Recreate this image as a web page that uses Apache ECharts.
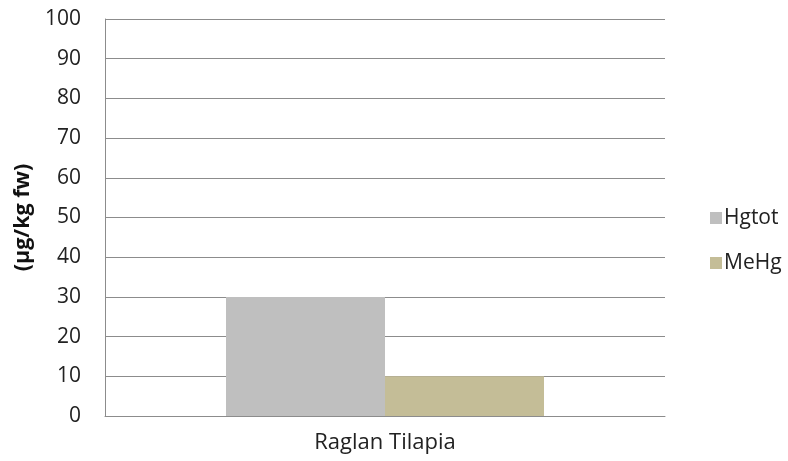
<!DOCTYPE html>
<html><head><meta charset="utf-8">
<script src="https://cdn.jsdelivr.net/npm/echarts@6/dist/echarts.min.js"></script>
<style>html,body{margin:0;padding:0;background:#fff}#c{width:788px;height:461px}</style>
</head><body><div id="c"></div>
<script>
const categories = ["Raglan Tilapia"];
const seriesNames = ["Hgtot", "MeHg"];
const hgtot = [30];
const mehg = [10];
const yTicks = [0, 10, 20, 30, 40, 50, 60, 70, 80, 90, 100];

const chart = echarts.init(document.getElementById('c'));
const font = "'Open Sans', 'Liberation Sans', sans-serif";
chart.setOption({
  animation: false,
  grid: { left: 105, right: 123, top: 19, bottom: 45, containLabel: false },
  legend: {
    orient: 'vertical', left: 705, top: 201, itemGap: 21,
    itemWidth: 12, itemHeight: 12, icon: 'rect',
    textStyle: { fontFamily: font, fontSize: 21, color: '#222', padding: [0,0,0,-3], lineHeight: 24 },
    data: seriesNames
  },
  xAxis: {
    type: 'category', data: categories,
    axisLine: { show: true, lineStyle: { color: '#8c8c8c' } },
    axisTick: { show: false },
    axisLabel: { fontFamily: font, fontSize: 22, color: '#222', margin: 16 }
  },
  yAxis: {
    type: 'value', min: yTicks[0], max: yTicks[yTicks.length-1], interval: 10,
    name: '(µg/kg fw)', nameLocation: 'middle', nameGap: 71, nameRotate: 90,
    nameTextStyle: { fontFamily: font, fontSize: 21.5, fontWeight: 'bold', color: '#111' },
    axisLine: { show: true, lineStyle: { color: '#8c8c8c' } },
    axisTick: { show: false },
    axisLabel: { fontFamily: font, fontSize: 21, color: '#222', margin: 24 },
    splitLine: { lineStyle: { color: '#8c8c8c', width: 1 } }
  },
  series: [
    { name: seriesNames[0], type: 'bar', data: hgtot, barWidth: 159, barGap: '0%', itemStyle: { color: '#bfbfbf' } },
    { name: seriesNames[1], type: 'bar', data: mehg, barWidth: 159, barGap: '0%', itemStyle: { color: '#c4bd97' } }
  ]
});
</script></body></html>
